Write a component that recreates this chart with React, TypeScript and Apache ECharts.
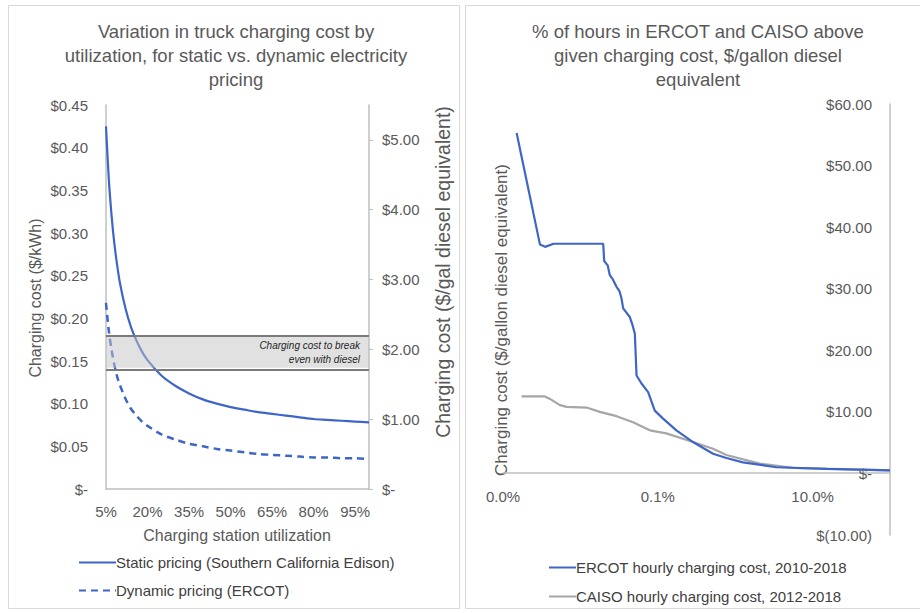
import React, { useEffect, useRef } from 'react';
import * as echarts from 'echarts';

// ---------- Left chart data ----------
const utilization = [5, 6, 7, 8, 9, 10, 12, 14, 16, 18, 20, 25, 30, 35, 40, 45, 50, 55, 60, 65, 70, 75, 80, 85, 90, 95, 100];
const staticPricing = [0.425, 0.364, 0.321, 0.288, 0.263, 0.242, 0.212, 0.19, 0.174, 0.161, 0.151, 0.133, 0.121, 0.112, 0.105, 0.1, 0.096, 0.093, 0.09, 0.088, 0.086, 0.084, 0.082, 0.081, 0.08, 0.079, 0.078];
const dynamicPricing = [0.218, 0.186, 0.163, 0.146, 0.132, 0.122, 0.106, 0.094, 0.086, 0.079, 0.074, 0.064, 0.058, 0.053, 0.05, 0.047, 0.045, 0.043, 0.041, 0.04, 0.039, 0.038, 0.037, 0.037, 0.036, 0.036, 0.035];
const breakEvenLow = 0.142;
const breakEvenHigh = 0.179;

// ---------- Right chart data ----------
const ercotShare = [1.5e-5, 3.0e-5, 3.5e-5, 4.5e-5, 1.97e-4, 2.03e-4, 2.25e-4, 2.4e-4, 2.6e-4, 2.93e-4, 3.2e-4, 3.4e-4, 3.57e-4, 4.35e-4, 4.66e-4, 5.05e-4, 5.31e-4, 6.16e-4, 7.5e-4, 9.14e-4, 1.17e-3, 1.74e-3, 2.85e-3, 5.17e-3, 7.7e-3, 1.26e-2, 3.4e-2, 1.5e-1, 1];
const ercotCost = [55.3, 37.2, 36.8, 37.3, 37.3, 34.5, 33.8, 32.2, 31.6, 30.3, 29.6, 28.4, 26.8, 25.4, 24.3, 22.7, 15.9, 14.6, 13.2, 10.2, 8.9, 7.0, 5.1, 3.2, 2.5, 1.8, 1.0, 0.75, 0.5];
const caisoShare = [1.74e-5, 3.48e-5, 4.04e-5, 5.44e-5, 6.64e-5, 1.2e-4, 1.78e-4, 2.93e-4, 4.8e-4, 5.86e-4, 7.9e-4, 1.29e-3, 2.85e-3, 5.17e-3, 7.7e-3, 2.07e-2, 5.57e-2, 1];
const caisoCost = [12.5, 12.5, 12.1, 11.1, 10.8, 10.7, 10.0, 9.3, 8.3, 7.8, 7.0, 6.5, 5.1, 4.0, 3.0, 1.6, 0.9, 0.5];

const leftLegend = ['Static pricing (Southern California Edison)', 'Dynamic pricing (ERCOT)'];
const rightLegend = ['ERCOT hourly charging cost, 2010-2018', 'CAISO hourly charging cost, 2012-2018'];

const FONT = 'Liberation Sans, Arial, Helvetica, sans-serif';
const TXT = '#595959';
const AXIS = '#bfbfbf';
const BLUE = '#3f66c6';
const GRAY = '#a6a6a6';

export default function App() {
  const ref = useRef<HTMLDivElement>(null);

  useEffect(() => {
    document.body.style.margin = '0';
    const chart = echarts.init(ref.current!, null, { renderer: 'svg' });

    const staticData = utilization.map((u, i) => [u, staticPricing[i]]);
    const dynamicData = utilization.map((u, i) => [u, dynamicPricing[i]]);
    const ercotData = ercotShare.map((p, i) => [p, ercotCost[i]]);
    const caisoData = caisoShare.map((p, i) => [p, caisoCost[i]]);

    const labelStyle = { color: TXT, fontSize: 15, fontFamily: FONT };
    const legendText = { color: '#404040', fontSize: 15, fontFamily: FONT, padding: [0, 0, 0, -5] };

    chart.setOption({
      animation: false,
      backgroundColor: '#ffffff',
      textStyle: { fontFamily: FONT },
      grid: [
        { left: 106, right: 551, top: 105, bottom: 124 },
        { left: 503, right: 30, top: 104, bottom: 78 },
      ],
      xAxis: [
        {
          type: 'value', gridIndex: 0, min: 5, max: 100, interval: 15,
          axisLine: { show: true, lineStyle: { color: AXIS, width: 1.5 } },
          axisTick: { show: false },
          splitLine: { show: false },
          axisLabel: { ...labelStyle, margin: 15, showMaxLabel: false, formatter: (v: number) => v + '%' },
        },
        {
          type: 'log', gridIndex: 1, min: 1e-5, max: 1, logBase: 10, position: 'bottom', offset: -62,
          axisLine: { show: true, onZero: false, lineStyle: { color: AXIS, width: 1.5 } },
          axisTick: { show: false },
          splitLine: { show: false },
          axisLabel: {
            ...labelStyle, margin: 16, showMinLabel: true,
            formatter: (v: number) => {
              const e = Math.round(Math.log10(v));
              return e === -5 || e === -3 || e === -1 ? (Math.pow(10, e) * 100).toFixed(1) + '%' : '';
            },
          },
        },
      ],
      yAxis: [
        {
          type: 'value', gridIndex: 0, min: 0, max: 0.45, interval: 0.05, position: 'left',
          axisLine: { show: true, lineStyle: { color: AXIS, width: 1.5 } },
          axisTick: { show: false },
          splitLine: { show: false },
          axisLabel: { ...labelStyle, margin: 18, formatter: (v: number) => (v === 0 ? '$-' : '$' + v.toFixed(2)) },
        },
        {
          type: 'value', gridIndex: 0, min: 0, max: 5.5, interval: 1, position: 'right',
          axisLine: { show: true, lineStyle: { color: AXIS, width: 1.5 } },
          axisTick: { show: true, length: 4, lineStyle: { color: AXIS } },
          splitLine: { show: false },
          axisLabel: {
            ...labelStyle, margin: 13, showMaxLabel: false,
            formatter: (v: number) => (v === 0 ? '$-' : v > 5.2 ? '' : '$' + v.toFixed(2)),
          },
        },
        {
          type: 'value', gridIndex: 1, min: -10, max: 60, interval: 10, position: 'right',
          axisLine: { show: true, lineStyle: { color: AXIS, width: 1.5 } },
          axisTick: { show: false },
          splitLine: { show: false },
          axisLabel: {
            ...labelStyle, inside: true, margin: 18, showMinLabel: true,
            formatter: (v: number) => (v === 0 ? '$-' : v < 0 ? '$(' + Math.abs(v).toFixed(2) + ')' : '$' + v.toFixed(2)),
          },
        },
      ],
      legend: [
        {
          data: leftLegend, orient: 'vertical', left: 78, top: 555, padding: 0, itemWidth: 37, itemHeight: 14, itemGap: 13,
          itemStyle: { opacity: 0 },
          textStyle: legendText,
        },
        {
          data: rightLegend, orient: 'vertical', left: 548, top: 560, padding: 0, itemWidth: 27, itemHeight: 14, itemGap: 14,
          itemStyle: { opacity: 0 },
          textStyle: legendText,
        },
      ],
      series: [
        {
          name: leftLegend[0], type: 'line', xAxisIndex: 0, yAxisIndex: 0, data: staticData,
          symbol: 'none', smooth: 0.3, z: 2,
          lineStyle: { color: BLUE, width: 2.2 }, itemStyle: { color: BLUE },
        },
        {
          name: leftLegend[1], type: 'line', xAxisIndex: 0, yAxisIndex: 0, data: dynamicData,
          symbol: 'none', smooth: 0.3, z: 2,
          lineStyle: { color: BLUE, width: 2.5, type: [7, 5] }, itemStyle: { color: BLUE },
        },
        {
          name: 'band', type: 'line', xAxisIndex: 0, yAxisIndex: 0, data: [], z: 3,
          markArea: {
            silent: true, z: 3,
            itemStyle: { color: 'rgba(195,195,195,0.5)' },
            label: {
              show: true, position: 'insideRight', distance: 9,
              formatter: 'Charging cost to break\neven with diesel',
              fontStyle: 'italic', fontSize: 10, lineHeight: 14, color: '#262626', fontFamily: FONT, align: 'right',
            },
            data: [[{ yAxis: breakEvenLow }, { yAxis: breakEvenHigh }]],
          },
          markLine: {
            silent: true, symbol: ['none', 'none'], z: 4,
            lineStyle: { color: '#7a7a7a', width: 2, type: 'solid' },
            label: { show: false },
            data: [{ yAxis: breakEvenLow }, { yAxis: breakEvenHigh }],
          },
        },
        {
          name: rightLegend[0], type: 'line', xAxisIndex: 1, yAxisIndex: 2, data: ercotData,
          symbol: 'none', z: 3,
          lineStyle: { color: BLUE, width: 2.2 }, itemStyle: { color: BLUE },
        },
        {
          name: rightLegend[1], type: 'line', xAxisIndex: 1, yAxisIndex: 2, data: caisoData,
          symbol: 'none', z: 2,
          lineStyle: { color: GRAY, width: 2.2 }, itemStyle: { color: GRAY },
        },
      ],
      graphic: [
        { type: 'rect', shape: { x: 8.5, y: 5.5, width: 451, height: 603 }, style: { fill: 'none', stroke: '#d9d9d9', lineWidth: 1 }, z: -1 },
        { type: 'rect', shape: { x: 465.5, y: 5.5, width: 470, height: 603 }, style: { fill: 'none', stroke: '#d9d9d9', lineWidth: 1 }, z: -1 },
        {
          type: 'text', x: 236, y: 19,
          style: { text: 'Variation in truck charging cost by\nutilization, for static vs. dynamic electricity\npricing', align: 'center', verticalAlign: 'top', fontSize: 18.5, lineHeight: 24, fill: TXT, fontFamily: FONT },
        },
        {
          type: 'text', x: 698, y: 19,
          style: { text: '% of hours in ERCOT and CAISO above\ngiven charging cost, $/gallon diesel\nequivalent', align: 'center', verticalAlign: 'top', fontSize: 18.5, lineHeight: 24, fill: TXT, fontFamily: FONT },
        },
        {
          type: 'text', x: 237, y: 535,
          style: { text: 'Charging station utilization', align: 'center', verticalAlign: 'middle', fontSize: 16, fill: TXT, fontFamily: FONT },
        },
        {
          type: 'text', x: 35, y: 298, rotation: Math.PI / 2,
          style: { text: 'Charging cost ($/kWh)', align: 'center', verticalAlign: 'middle', fontSize: 16, fill: TXT, fontFamily: FONT },
        },
        {
          type: 'text', x: 443, y: 272, rotation: Math.PI / 2,
          style: { text: 'Charging cost ($/gal diesel equivalent)', align: 'center', verticalAlign: 'middle', fontSize: 19.5, fill: TXT, fontFamily: FONT },
        },
        {
          type: 'text', x: 501, y: 320, rotation: Math.PI / 2,
          style: { text: 'Charging cost ($/gallon diesel equivalent)', align: 'center', verticalAlign: 'middle', fontSize: 17, fill: TXT, fontFamily: FONT },
        },
      ],
    });

    return () => chart.dispose();
  }, []);

  return <div ref={ref} style={{ width: 920, height: 613 }} />;
}
